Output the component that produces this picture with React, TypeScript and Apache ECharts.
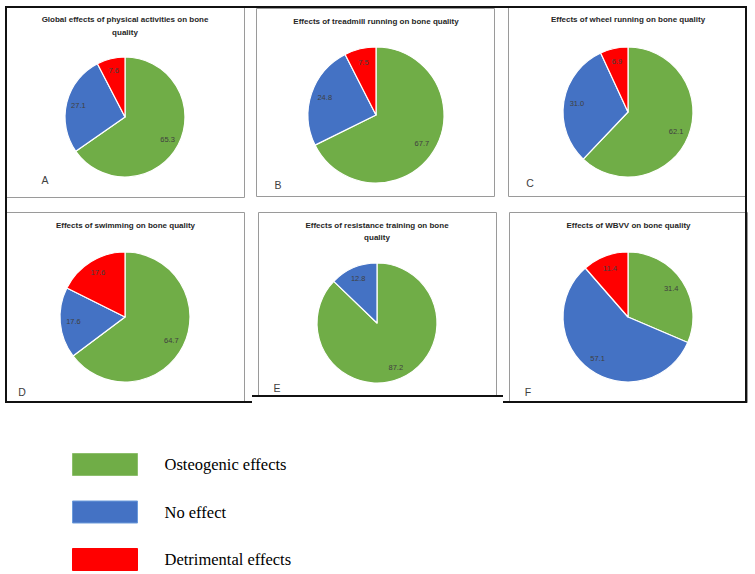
import React, { useEffect, useRef } from 'react';
import * as echarts from 'echarts';

// ---- data ----
const categories = ['Osteogenic effects', 'No effect', 'Detrimental effects'];
const panelTitles = [
  'Global effects of physical activities on bone\nquality',
  'Effects of treadmill running on bone quality',
  'Effects of wheel running on bone quality',
  'Effects of swimming on bone quality',
  'Effects of resistance training on bone\nquality',
  'Effects of WBVV on bone quality',
];
const panelLetters = ['A', 'B', 'C', 'D', 'E', 'F'];
const globalValues = [65.3, 27.1, 7.6];
const treadmillValues = [67.7, 24.8, 7.5];
const wheelValues = [62.1, 31.0, 6.9];
const swimmingValues = [64.7, 17.6, 17.6];
const resistanceValues: (number | null)[] = [87.2, 12.8, null];
const wbvvValues = [31.4, 57.1, 11.4];
const panelValues = [globalValues, treadmillValues, wheelValues, swimmingValues, resistanceValues, wbvvValues];

// ---- styles / layout ----
const colors = ['#70AD47', '#4472C4', '#FF0000'];
const legendBorders = ['#8DBF6C', '#6C9BDB', '#FF0000'];
const layout = [
  { cx: 125, cy: 117, r: 60, box: [6, 7, 238, 190], tx: 125, ty: 26, lx: 45, ly: 180 },
  { cx: 376, cy: 115, r: 68, box: [256, 8, 238, 188], tx: 376, ty: 21, lx: 278, ly: 185 },
  { cx: 628, cy: 112, r: 65, box: [508, 7, 238, 189], tx: 628, ty: 19.5, lx: 530, ly: 183 },
  { cx: 125, cy: 317, r: 65, box: [6, 212, 238, 190], tx: 125.5, ty: 225, lx: 22, ly: 392 },
  { cx: 377, cy: 323, r: 60, box: [258, 212, 238, 184], tx: 377, ty: 231.5, lx: 277, ly: 388 },
  { cx: 628, cy: 317, r: 65, box: [509, 212, 238, 190], tx: 628.5, ty: 225, lx: 528, ly: 392 },
];
const thickLines = [
  [6, 7, 747, 7],
  [6, 6, 6, 403],
  [746, 6, 746, 403],
  [6, 402, 252, 402],
  [252, 396, 503, 396],
  [503, 402, 747, 402],
];

export default function App() {
  const ref = useRef<HTMLDivElement>(null);
  useEffect(() => {
    if (!ref.current) return;
    const chart = echarts.init(ref.current, null, { renderer: 'svg' });

    const series: any[] = [];
    panelValues.forEach((vals, p) => {
      const L = layout[p];
      const data = vals
        .map((v, i) => (v == null ? null : { name: categories[i], value: v, itemStyle: { color: colors[i] } }))
        .filter((d) => d != null);
      series.push({
        type: 'pie',
        center: [L.cx, L.cy],
        radius: L.r,
        startAngle: 90,
        clockwise: true,
        silent: true,
        data,
        label: { show: false },
        labelLine: { show: false },
        itemStyle: { borderColor: '#ffffff', borderWidth: 1.2 },
        emphasis: { disabled: true },
      });
      series.push({
        type: 'pie',
        center: [L.cx, L.cy],
        radius: [L.r * 0.5, L.r],
        startAngle: 90,
        clockwise: true,
        silent: true,
        z: 3,
        data: data.map((d: any) => ({ name: d.name, value: d.value })),
        itemStyle: { color: 'rgba(0,0,0,0)', borderWidth: 0 },
        label: {
          show: true,
          position: 'inside',
          formatter: (pp: any) => Number(pp.value).toFixed(1),
          fontSize: 7.5,
          fontFamily: 'Liberation Sans, Arial, sans-serif',
          color: '#404040',
        },
        labelLine: { show: false },
        emphasis: { disabled: true },
      });
    });

    const graphic: any[] = [];
    layout.forEach((L, p) => {
      const [x, y, w, h] = L.box;
      graphic.push({
        type: 'rect',
        shape: { x: x + 0.5, y: y + 0.5, width: w, height: h },
        style: { fill: 'none', stroke: '#9a9a9a', lineWidth: 1 },
        silent: true,
      });
      graphic.push({
        type: 'text',
        x: L.tx,
        y: L.ty,
        style: {
          text: panelTitles[p],
          fontSize: 8,
          fontWeight: 'bold',
          fontFamily: 'Liberation Sans, Arial, sans-serif',
          fill: '#262626',
          align: 'center',
          verticalAlign: 'middle',
          lineHeight: 12.5,
        },
        silent: true,
      });
      graphic.push({
        type: 'text',
        x: L.lx,
        y: L.ly,
        style: {
          text: panelLetters[p],
          fontSize: 10.5,
          fontFamily: 'Liberation Sans, Arial, sans-serif',
          fill: '#404040',
          align: 'center',
          verticalAlign: 'middle',
        },
        silent: true,
      });
    });
    thickLines.forEach(([x1, y1, x2, y2]) => {
      graphic.push({
        type: 'line',
        shape: { x1, y1, x2, y2 },
        style: { stroke: '#111', lineWidth: 2 },
        silent: true,
      });
    });

    chart.setOption({
      animation: false,
      backgroundColor: '#ffffff',
      legend: {
        data: categories.map((c, i) => ({ name: c, itemStyle: { borderColor: legendBorders[i], borderWidth: 1 } })),
        orient: 'vertical',
        left: 72,
        top: 453,
        padding: 0,
        itemWidth: 65,
        itemHeight: 22,
        itemGap: 24.5,
        icon: 'rect',
        selectedMode: false,
        textStyle: {
          fontFamily: 'Liberation Serif, Times New Roman, serif',
          fontSize: 16.5,
          color: '#000',
          padding: [0, 0, 0, 22],
        },
      },
      series,
      graphic,
    });
    return () => chart.dispose();
  }, []);
  return (
    <div
      ref={ref}
      style={{ position: 'fixed', left: 0, top: 0, width: 755, height: 574, background: '#fff' }}
    />
  );
}
